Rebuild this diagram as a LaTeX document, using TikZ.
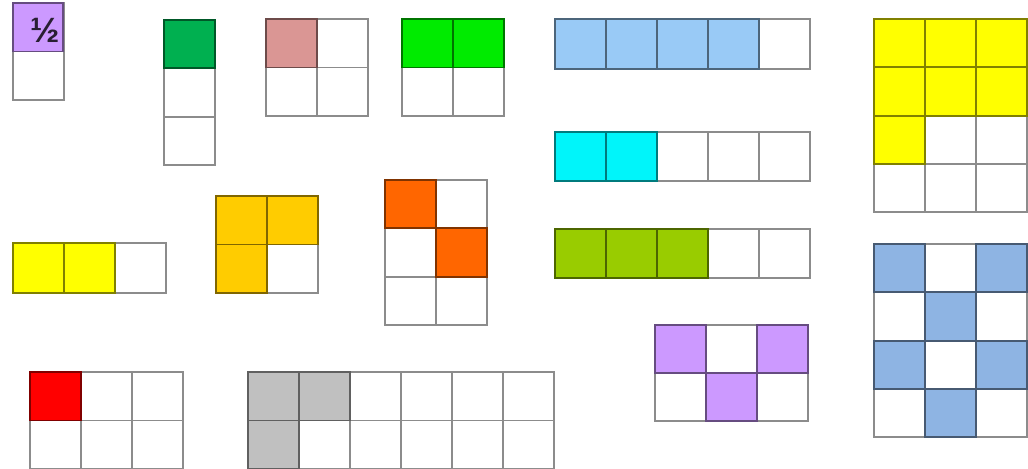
\documentclass[tikz,border=0pt]{standalone}
\usepackage{fontspec}
\setmainfont{Liberation Sans}
\usepackage{tikz}

\definecolor{halfpurple}{RGB}{204,153,255}
\definecolor{dkgreen}{RGB}{0,176,80}
\definecolor{rosepink}{RGB}{218,150,148}
\definecolor{brightgreen}{RGB}{0,235,0}
\definecolor{skyblue}{RGB}{153,202,246}
\definecolor{aqua}{RGB}{0,245,250}
\definecolor{limegreen}{RGB}{153,204,0}
\definecolor{sunyellow}{RGB}{255,255,0}
\definecolor{steelblue}{RGB}{142,180,227}
\definecolor{amber}{RGB}{255,204,0}
\definecolor{tangerine}{RGB}{255,102,0}
\definecolor{pureRed}{RGB}{255,0,0}
\definecolor{silver}{RGB}{192,192,192}

\begin{document}
\begin{tikzpicture}[
        x=0.02cm, y=-0.02cm,
        cell/.style={draw=black!45, fill=white, line width=1.1pt},
        on/.style={fill=#1, draw=#1!50!black, line width=1.1pt}
    ]
    \useasboundingbox (0,0) rectangle (1028,469);

    % Empty grids: left x / top y / columns / rows / cell height
    \foreach \gx/\gy/\nc/\nr/\ch in {13/3/1/2/48.5, 164/20/1/3/48.3, 266/19/2/2/48.5,
        402/19/2/2/48.5, 555/19/5/1/50, 555/132/5/1/49, 555/229/5/1/49,
        874/19/3/4/48.3, 874/244/3/4/48.3, 655/325/3/2/48, 13/243/3/1/50,
        216/196/2/2/48.5, 385/180/2/3/48.3, 30/372/3/2/48.5, 248/372/6/2/48.5}
        \foreach \c in {1,...,\nc}
            \foreach \r in {1,...,\nr}
                \draw[cell] ({\gx+(\c-1)*51},{\gy+(\r-1)*\ch}) rectangle ++(51,\ch);

    % Coloured cells
    \draw[on=halfpurple] (13,3) rectangle ++(50,48.5);
    \node[text=black!80!halfpurple, font=\bfseries\fontsize{20}{20}\selectfont] (half) at (45,30) {½};

    \draw[on=dkgreen] (164,20) rectangle ++(51,48.3);
    \draw[on=rosepink] (266,19) rectangle ++(51,48.5);
    \foreach \c in {0,1} \draw[on=brightgreen] ({402+\c*51},19) rectangle ++(51,48.5);

    \foreach \c in {0,...,3} \draw[on=skyblue] ({555+\c*51},19) rectangle ++(51,50);
    \foreach \c in {0,1} \draw[on=aqua] ({555+\c*51},132) rectangle ++(51,49);
    \foreach \c in {0,1,2} \draw[on=limegreen] ({555+\c*51},229) rectangle ++(51,49);

    \foreach \c/\r in {0/0,1/0,2/0,0/1,1/1,2/1,0/2}
        \draw[on=sunyellow] ({874+\c*51},{19+\r*48.3}) rectangle ++(51,48.3);
    \foreach \c/\r in {0/0,2/0,1/1,0/2,2/2,1/3}
        \draw[on=steelblue] ({874+\c*51},{244+\r*48.3}) rectangle ++(51,48.3);
    \foreach \c/\r in {0/0,2/0,1/1}
        \draw[on=halfpurple] ({655+\c*51},{325+\r*48}) rectangle ++(51,48);

    \foreach \c in {0,1} \draw[on=sunyellow] ({13+\c*51},243) rectangle ++(51,50);
    \foreach \c/\r in {0/0,1/0,0/1}
        \draw[on=amber] ({216+\c*51},{196+\r*48.5}) rectangle ++(51,48.5);
    \foreach \c/\r in {0/0,1/1}
        \draw[on=tangerine] ({385+\c*51},{180+\r*48.3}) rectangle ++(51,48.3);

    \draw[on=pureRed] (30,372) rectangle ++(51,48.5);
    \foreach \c/\r in {0/0,1/0,0/1}
        \draw[on=silver] ({248+\c*51},{372+\r*48.5}) rectangle ++(51,48.5);

\end{tikzpicture}
\end{document}
